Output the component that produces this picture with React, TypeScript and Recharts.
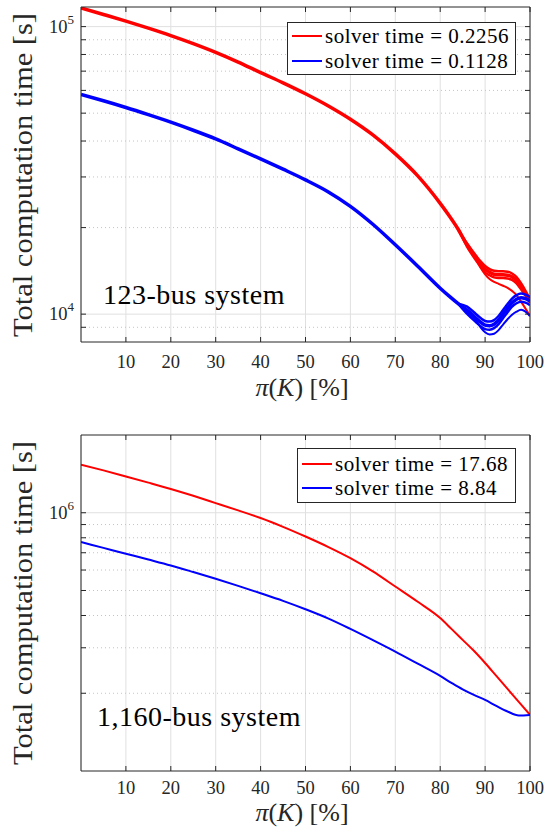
import React from 'react';
import { LineChart, Line, XAxis, YAxis, CartesianGrid, ReferenceLine, Legend } from 'recharts';

const FONT = '"Liberation Serif", "Times New Roman", serif';
const INK = '#262626';

// ---------- top panel: 123-bus system ----------
const xTop = [0, 5, 10, 15, 20, 25, 30, 35, 40, 45, 50, 55, 60, 65, 70, 75, 80, 82, 84, 86, 88, 89, 90, 91, 92, 93, 94, 95, 96, 97, 98, 99, 100];
const redTop = [116100, 110200, 104500, 98800, 93100, 87300, 81400, 75300, 69200, 63740, 58400, 53060, 47620, 42000, 36090, 30270, 24280, 21980, 19730, 17370, 15650, 14910, 14330, 13990, 13770, 13710, 13710, 13660, 13490, 13120, 12510, 11830, 11100];
const N18 = Array(18).fill(null);
const redTopHi = [...N18, 19730, 17600, 15950, 15250, 14700, 14350, 14150, 14100, 14100, 14050, 13850, 13450, 12800, 12050, 11250];
const redTopLo = [...N18, 19730, 17150, 15350, 14600, 13980, 13650, 13420, 13350, 13350, 13300, 13150, 12800, 12200, 11600, 10950];
const redTopOut = [...N18, 19730, 17370, 15500, 14500, 13750, 13250, 12950, 12750, 12550, 12350, 12050, 11650, 11050, 10450, 9850];
const blueTop = [58060, 55210, 52330, 49400, 46520, 43600, 40680, 37580, 34670, 31920, 29310, 26670, 23710, 20540, 17430, 14680, 12310, 11550, 10880, 10320, 9680, 9380, 9160, 9120, 9230, 9530, 10000, 10490, 10960, 11270, 11410, 11320, 11100];
const blueTopHi = [...N18, 10880, 10620, 9990, 9690, 9470, 9420, 9530, 9850, 10330, 10840, 11320, 11640, 11790, 11690, 11470];
const blueTopLo = [...N18, 10880, 10020, 9370, 9080, 8870, 8830, 8940, 9230, 9680, 10150, 10610, 10910, 11050, 10960, 10750];
const blueTopOut = [...N18, 10880, 10200, 9500, 9000, 8650, 8500, 8550, 8800, 9200, 9600, 9950, 10200, 10350, 10200, 9850];
const legendTop = ['solver time = 0.2256', 'solver time = 0.1128'];
const yTicksTop = [9000, 10000, 20000, 30000, 40000, 50000, 60000, 70000, 80000, 90000, 100000];
const minorTop = [9000, 20000, 30000, 40000, 50000, 60000, 70000, 80000, 90000];
const majorTop = [10000, 100000];

// ---------- bottom panel: 1,160-bus system ----------
const xBot = [0, 5, 10, 15, 20, 25, 30, 35, 40, 45, 50, 55, 60, 65, 70, 75, 80, 82.5, 85, 87.5, 90, 92.5, 95, 97.5, 100];
const redBot = [1535000, 1459000, 1382000, 1308000, 1236000, 1163000, 1090000, 1021000, 954000, 882000, 809000, 738000, 667000, 593000, 518000, 452000, 391000, 355000, 322000, 292000, 262000, 233400, 207900, 185100, 164900];
const blueBot = [770000, 731000, 694000, 659000, 625000, 589500, 555000, 521000, 488000, 456000, 423000, 390000, 355000, 321300, 290000, 260300, 233400, 219400, 207000, 197000, 188400, 178600, 170000, 164100, 164900];
const legendBot = ['solver time = 17.68', 'solver time = 8.84'];
const yTicksBot = [200000, 300000, 400000, 500000, 600000, 700000, 800000, 900000, 1000000];
const minorBot = [200000, 300000, 400000, 500000, 600000, 700000, 800000, 900000];
const majorBot = [1000000];

const xTicks = [10, 20, 30, 40, 50, 60, 70, 80, 90, 100];

const dataTop = xTop.map((x, i) => ({
  x, r: redTop[i], rh: redTopHi[i], rl: redTopLo[i], ro: redTopOut[i],
  b: blueTop[i], bh: blueTopHi[i], bl: blueTopLo[i], bo: blueTopOut[i],
}));
const dataBot = xBot.map((x, i) => ({ x, r: redBot[i], b: blueBot[i] }));

const isPow10 = (v: number) => {
  const e = Math.log10(v);
  return Math.abs(e - Math.round(e)) < 1e-9;
};

const LeftTick = (props: any) => {
  const { x, y, payload } = props;
  const v = payload.value;
  return (
    <g>
      <line x1={x} x2={x + 5} y1={y} y2={y} stroke={INK} />
      {isPow10(v) && (
        <text x={x - 7} y={y + 6} textAnchor="end" fontFamily={FONT} fontSize={18.5} fill={INK}>
          10<tspan dy={-9} fontSize={13}>{Math.round(Math.log10(v))}</tspan>
        </text>
      )}
    </g>
  );
};
const RightTick = (props: any) => {
  const { x, y } = props;
  return <line x1={x} x2={x - 5} y1={y} y2={y} stroke={INK} />;
};
const TopTick = (props: any) => {
  const { x, y } = props;
  return <line x1={x} x2={x} y1={y} y2={y + 5} stroke={INK} />;
};
const BottomTick = (props: any) => {
  const { x, y, payload, dyText } = props;
  return (
    <g>
      <line x1={x} x2={x} y1={y} y2={y - 5} stroke={INK} />
      <text x={x} y={y + dyText} textAnchor="middle" fontFamily={FONT} fontSize={18.5} fill={INK}>
        {payload.value}
      </text>
    </g>
  );
};

const makeLegend = (labels: string[], colors: string[], rows: number[]) => () => (
  <div style={{ position: 'relative', width: '100%', height: '100%', boxSizing: 'border-box', border: `1px solid ${INK}`, background: '#fff', fontFamily: FONT, fontSize: 21, color: '#000' }}>
    {labels.map((lab, i) => (
      <div key={i} style={{ position: 'absolute', left: 4, top: rows[i] - 13, height: 26, display: 'flex', alignItems: 'center', whiteSpace: 'nowrap' }}>
        <div style={{ width: 30, height: 2, background: colors[i], marginRight: 3 }} />
        <span style={{ letterSpacing: 0.5, lineHeight: '26px' }}>{lab}</span>
      </div>
    ))}
  </div>
);

type PanelProps = {
  data: any[];
  height: number;
  plotTop: number;
  plotBottom: number;
  domain: [number, number];
  yTicks: number[];
  minor: number[];
  major: number[];
  lines: { key: string; color: string; width: number }[];
  legend: () => React.ReactNode;
  legendBox: { left: number; top: number; width: number; height: number };
  tickDy: number;
  xLabelBaseline: number;
  yLabelCenter: number;
  note: string;
  noteLeft: number;
  noteCenter: number;
};

function Panel(p: PanelProps) {
  const W = 546;
  const L = 81;
  const R = 530;
  return (
    <div style={{ position: 'relative', width: W, height: p.height }}>
      <LineChart width={W} height={p.height} data={p.data} margin={{ top: 0, right: 0, bottom: 0, left: 0 }}>
        <CartesianGrid horizontal={false} stroke="#e0e0e0" />
        {p.minor.map((v) => (
          <ReferenceLine key={'m' + v} y={v} stroke="#c4c4c4" strokeDasharray="1 3" />
        ))}
        {p.major.map((v) => (
          <ReferenceLine key={'M' + v} y={v} stroke="#e0e0e0" />
        ))}
        <XAxis
          dataKey="x"
          type="number"
          domain={[0, 100]}
          allowDataOverflow
          ticks={xTicks}
          interval={0}
          height={p.height - p.plotBottom}
          tickSize={0}
          tickMargin={0}
          tickLine={false}
          axisLine={{ stroke: INK }}
          tick={<BottomTick dyText={p.tickDy} />}
          label={() => (
            <text x={302} y={p.xLabelBaseline} textAnchor="middle" fontFamily={FONT} fontSize={26} fill={INK}>
              <tspan fontStyle="italic">π</tspan>(<tspan fontStyle="italic">K</tspan>) [%]
            </text>
          )}
        />
        <XAxis
          xAxisId="t"
          orientation="top"
          dataKey="x"
          type="number"
          domain={[0, 100]}
          allowDataOverflow
          ticks={xTicks}
          interval={0}
          height={p.plotTop}
          tickSize={0}
          tickMargin={0}
          tickLine={false}
          axisLine={{ stroke: INK }}
          tick={<TopTick />}
        />
        <YAxis
          scale="log"
          type="number"
          domain={p.domain}
          allowDataOverflow
          ticks={p.yTicks}
          interval={0}
          width={L}
          tickSize={0}
          tickMargin={0}
          tickLine={false}
          axisLine={{ stroke: INK }}
          tick={<LeftTick />}
          label={() => (
            <text
              x={32}
              y={p.yLabelCenter}
              transform={`rotate(-90 32 ${p.yLabelCenter})`}
              textAnchor="middle"
              fontFamily={FONT}
              fontSize={27}
              fill={INK}
              textLength={324}
              lengthAdjust="spacingAndGlyphs"
            >
              Total computation time [s]
            </text>
          )}
        />
        <YAxis
          yAxisId="r"
          orientation="right"
          scale="log"
          type="number"
          domain={p.domain}
          allowDataOverflow
          ticks={p.yTicks}
          interval={0}
          width={W - R}
          tickSize={0}
          tickMargin={0}
          tickLine={false}
          axisLine={{ stroke: INK }}
          tick={<RightTick />}
        />
        {p.lines.map((s) => (
          <Line
            key={s.key}
            dataKey={s.key}
            type="monotone"
            stroke={s.color}
            strokeWidth={s.width}
            dot={false}
            activeDot={false}
            isAnimationActive={false}
            connectNulls={false}
          />
        ))}
        <Legend
          layout="horizontal"
          verticalAlign="middle"
          align="center"
          content={p.legend}
          wrapperStyle={{ position: 'absolute', left: p.legendBox.left, top: p.legendBox.top, width: p.legendBox.width, height: p.legendBox.height }}
        />
      </LineChart>
      <div
        style={{
          position: 'absolute',
          left: p.noteLeft,
          top: p.noteCenter - 14,
          fontFamily: FONT,
          fontSize: 28,
          lineHeight: '28px',
          letterSpacing: 0.5,
          color: '#000',
          whiteSpace: 'nowrap',
        }}
      >
        {p.note}
      </div>
    </div>
  );
}

export default function App() {
  return (
    <div style={{ position: 'absolute', left: 0, top: 0, width: 546, height: 833, background: '#fff', overflow: 'hidden' }}>
      <div style={{ position: 'absolute', left: 0, top: 0 }}>
        <Panel
          data={dataTop}
          height={415}
          plotTop={7}
          plotBottom={342}
          domain={[8000, 117000]}
          yTicks={yTicksTop}
          minor={minorTop}
          major={majorTop}
          lines={[
            { key: 'r', color: '#ff0000', width: 3.5 },
            { key: 'rh', color: '#ff0000', width: 2.5 },
            { key: 'rl', color: '#ff0000', width: 2.5 },
            { key: 'ro', color: '#ff0000', width: 2 },
            { key: 'b', color: '#0000ff', width: 3.5 },
            { key: 'bh', color: '#0000ff', width: 2.5 },
            { key: 'bl', color: '#0000ff', width: 2.5 },
            { key: 'bo', color: '#0000ff', width: 2 },
          ]}
          legend={makeLegend(legendTop, ['#ff0000', '#0000ff'], [13, 38])}
          legendBox={{ left: 287, top: 22, width: 229, height: 53 }}
          tickDy={26}
          xLabelBaseline={396}
          yLabelCenter={175}
          note="123-bus system"
          noteLeft={103}
          noteCenter={295}
        />
      </div>
      <div style={{ position: 'absolute', left: 0, top: 415 }}>
        <Panel
          data={dataBot}
          height={418}
          plotTop={20}
          plotBottom={356}
          domain={[100000, 2000000]}
          yTicks={yTicksBot}
          minor={minorBot}
          major={majorBot}
          lines={[
            { key: 'r', color: '#ff0000', width: 2 },
            { key: 'b', color: '#0000ff', width: 2 },
          ]}
          legend={makeLegend(legendBot, ['#ff0000', '#0000ff'], [15, 39])}
          legendBox={{ left: 297, top: 33, width: 219, height: 55 }}
          tickDy={23}
          xLabelBaseline={406}
          yLabelCenter={188}
          note="1,160-bus system"
          noteLeft={97}
          noteCenter={302}
        />
      </div>
    </div>
  );
}
